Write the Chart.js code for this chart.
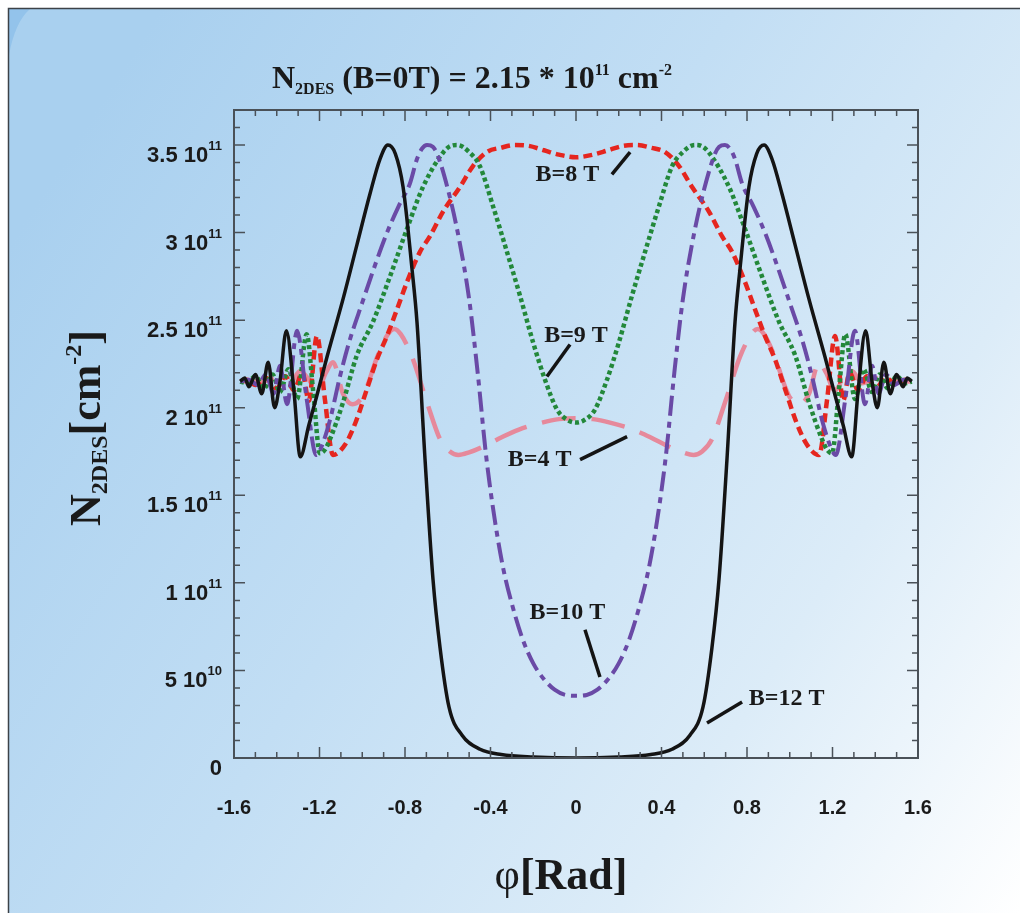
<!DOCTYPE html>
<html>
<head>
<meta charset="utf-8">
<script src="https://cdn.jsdelivr.net/npm/chart.js@4.4.1/dist/chart.umd.min.js"></script>
<style>
  html, body { margin: 0; padding: 0; background: #ffffff; }
  #wrap { width: 1020px; height: 913px; position: relative; }
</style>
</head>
<body>
<div id="wrap"><canvas id="c" width="1020" height="913"></canvas></div>
<script>
// Electron sheet density N_2DES (in 10^11 cm^-2) versus tilt angle phi (rad)

// B = 12 T
const phi12 = [-1.571,-1.55,-1.53,-1.50,-1.47,-1.44,-1.41,-1.385,-1.355,-1.32,-1.29,-1.25,-1.21,-1.165,-1.09,-1.025,-0.964,-0.917,-0.88,-0.845,-0.809,-0.767,-0.744,-0.706,-0.669,-0.636,-0.594,-0.533,-0.449,-0.35,-0.2,0,
               0.2,0.35,0.449,0.533,0.594,0.636,0.669,0.706,0.744,0.767,0.809,0.845,0.88,0.917,0.964,1.025,1.09,1.165,1.21,1.25,1.29,1.32,1.355,1.385,1.41,1.44,1.47,1.50,1.53,1.55,1.571];
const n12   = [2.15,2.17,2.12,2.19,2.08,2.26,2.00,2.15,2.44,2.10,1.72,1.90,2.08,2.29,2.62,2.93,3.22,3.42,3.50,3.45,3.26,2.79,2.49,1.70,1.02,0.63,0.29,0.13,0.05,0.02,0.006,0,
               0.006,0.02,0.05,0.13,0.29,0.63,1.02,1.70,2.49,2.79,3.26,3.45,3.50,3.42,3.22,2.93,2.62,2.29,2.08,1.90,1.72,2.10,2.44,2.15,2.00,2.26,2.08,2.19,2.12,2.17,2.15];

// B = 10 T
const phi10 = [-1.571,-1.53,-1.49,-1.45,-1.415,-1.385,-1.352,-1.305,-1.26,-1.215,-1.19,-1.151,-1.104,-1.06,-1.0,-0.95,-0.884,-0.83,-0.777,-0.744,-0.72,-0.697,-0.67,-0.65,-0.60,-0.55,-0.50,-0.46,-0.42,-0.38,-0.34,-0.30,-0.25,-0.20,-0.15,-0.10,-0.05,0,
               0.05,0.10,0.15,0.20,0.25,0.30,0.34,0.38,0.42,0.46,0.50,0.55,0.60,0.65,0.67,0.697,0.72,0.744,0.777,0.83,0.884,0.95,1.0,1.06,1.104,1.151,1.19,1.215,1.26,1.305,1.352,1.385,1.415,1.45,1.49,1.53,1.571];
const n10   = [2.15,2.16,2.13,2.19,2.08,2.24,2.02,2.44,2.05,1.73,1.78,1.93,2.18,2.38,2.60,2.78,3.00,3.15,3.28,3.42,3.48,3.50,3.49,3.45,3.25,2.98,2.62,2.20,1.72,1.36,1.08,0.88,0.68,0.54,0.45,0.39,0.36,0.355,
               0.36,0.39,0.45,0.54,0.68,0.88,1.08,1.36,1.72,2.20,2.62,2.98,3.25,3.45,3.49,3.50,3.48,3.42,3.28,3.15,3.00,2.78,2.60,2.38,2.18,1.93,1.78,1.73,2.05,2.44,2.02,2.24,2.08,2.19,2.13,2.16,2.15];

// B = 9 T
const phi9 = [-1.571,-1.54,-1.50,-1.46,-1.42,-1.385,-1.345,-1.305,-1.26,-1.23,-1.198,-1.175,-1.151,-1.09,-1.025,-0.95,-0.87,-0.791,-0.716,-0.62,-0.585,-0.555,-0.50,-0.45,-0.388,-0.323,-0.262,-0.20,-0.145,-0.089,-0.04,0,
              0.04,0.089,0.145,0.20,0.262,0.323,0.388,0.45,0.50,0.555,0.585,0.62,0.716,0.791,0.87,0.95,1.025,1.09,1.151,1.175,1.198,1.23,1.26,1.305,1.345,1.385,1.42,1.46,1.50,1.54,1.571];
const n9   = [2.15,2.14,2.18,2.11,2.19,2.09,2.22,2.05,2.42,2.10,1.74,1.76,1.82,2.03,2.30,2.49,2.75,3.02,3.26,3.46,3.495,3.50,3.46,3.38,3.15,2.89,2.64,2.37,2.16,1.99,1.93,1.915,
              1.93,1.99,2.16,2.37,2.64,2.89,3.15,3.38,3.46,3.50,3.495,3.46,3.26,3.02,2.75,2.49,2.30,2.03,1.82,1.76,1.74,2.10,2.42,2.05,2.22,2.09,2.19,2.11,2.18,2.14,2.15];

// B = 8 T
const phi8 = [-1.571,-1.54,-1.50,-1.45,-1.40,-1.36,-1.32,-1.28,-1.25,-1.212,-1.175,-1.137,-1.08,-1.03,-0.98,-0.93,-0.884,-0.838,-0.79,-0.73,-0.683,-0.622,-0.543,-0.482,-0.417,-0.35,-0.285,-0.22,-0.15,-0.08,0,
              0.08,0.15,0.22,0.285,0.35,0.417,0.482,0.543,0.622,0.683,0.73,0.79,0.838,0.884,0.93,0.98,1.03,1.08,1.137,1.175,1.212,1.25,1.28,1.32,1.36,1.40,1.45,1.50,1.54,1.571];
const n8   = [2.15,2.16,2.13,2.17,2.11,2.18,2.10,2.20,2.04,2.41,2.05,1.73,1.79,1.92,2.10,2.28,2.41,2.56,2.72,2.89,2.98,3.12,3.26,3.38,3.46,3.485,3.50,3.495,3.47,3.445,3.43,
              3.445,3.47,3.495,3.50,3.485,3.46,3.38,3.26,3.12,2.98,2.89,2.72,2.56,2.41,2.28,2.10,1.92,1.79,1.73,2.05,2.41,2.04,2.20,2.10,2.18,2.11,2.17,2.13,2.16,2.15];

// B = 4 T
const phi4 = [-1.571,-1.47,-1.40,-1.34,-1.29,-1.25,-1.21,-1.17,-1.137,-1.09,-1.045,-1.0,-0.978,-0.93,-0.88,-0.85,-0.82,-0.767,-0.697,-0.636,-0.59,-0.55,-0.50,-0.43,-0.35,-0.267,-0.159,-0.08,0,
              0.08,0.159,0.267,0.35,0.43,0.50,0.55,0.59,0.636,0.697,0.767,0.82,0.85,0.88,0.93,0.978,1.0,1.045,1.09,1.137,1.17,1.21,1.25,1.29,1.34,1.40,1.47,1.571];
const n4   = [2.15,2.15,2.17,2.14,2.21,2.16,2.10,2.20,2.26,2.08,2.02,2.06,2.12,2.29,2.42,2.45,2.42,2.29,2.03,1.82,1.75,1.73,1.745,1.78,1.83,1.875,1.915,1.935,1.94,
              1.935,1.915,1.875,1.83,1.78,1.745,1.73,1.75,1.82,2.03,2.29,2.42,2.45,2.42,2.29,2.12,2.06,2.02,2.08,2.26,2.20,2.10,2.16,2.21,2.14,2.17,2.15,2.15];

// axis ticks and labels
const xTicks = [-1.6,-1.2,-0.8,-0.4,0,0.4,0.8,1.2,1.6];
const xTickLabels = ['-1.6','-1.2','-0.8','-0.4','0','0.4','0.8','1.2','1.6'];
const yTicks = [0,0.5,1,1.5,2,2.5,3,3.5];
const yTickMain = ['0','5 10','1 10','1.5 10','2 10','2.5 10','3 10','3.5 10'];
const yTickExp  = ['','10','11','11','11','11','11','11'];

// curve annotations: text anchor and leader line, in data coordinates
const noteText = ['B=8 T','B=9 T','B=4 T','B=10 T','B=12 T'];
const notePos  = [[-0.04,3.33],[0.0,2.41],[-0.17,1.70],[-0.04,0.83],[0.985,0.34]];
const noteLine = [[0.168,3.333,0.253,3.459],[-0.136,2.178,-0.028,2.361],[0.019,1.704,0.239,1.835],[0.042,0.732,0.112,0.463],[0.777,0.32,0.613,0.20]];

const pts = (xs, ys) => xs.map((x, i) => ({ x: x, y: ys[i] }));

const SERIF = '"Liberation Serif", "Times New Roman", serif';
const SANS = '"Liberation Sans", Arial, sans-serif';

function richWidth(ctx, parts) {
  let w = 0;
  for (const p of parts) { ctx.font = p.f; w += ctx.measureText(p.t).width; }
  return w;
}
function drawRich(ctx, parts, x, y, align) {
  const w = richWidth(ctx, parts);
  let cx = align === 'center' ? x - w / 2 : (align === 'right' ? x - w : x);
  ctx.textAlign = 'left';
  ctx.textBaseline = 'alphabetic';
  for (const p of parts) {
    ctx.font = p.f;
    ctx.fillText(p.t, cx, y + (p.dy || 0));
    cx += ctx.measureText(p.t).width;
  }
}

const decor = {
  id: 'decor',
  beforeDraw(chart) {
    const ctx = chart.ctx, W = chart.width, H = chart.height;
    ctx.save();
    ctx.fillStyle = '#ffffff';
    ctx.fillRect(0, 0, W, H);
    const g = ctx.createLinearGradient(0, 260, W, H);
    g.addColorStop(0, '#a9d0ef');
    g.addColorStop(0.4, '#c2def4');
    g.addColorStop(0.72, '#dcecf8');
    g.addColorStop(1, '#ffffff');
    ctx.fillStyle = g;
    ctx.fillRect(9, 9, W - 9, H - 9);
    // darker swoosh in the upper-left corner
    ctx.fillStyle = 'rgba(120,180,230,0.45)';
    ctx.beginPath();
    ctx.moveTo(9, 9);
    ctx.lineTo(30, 9);
    ctx.quadraticCurveTo(15, 22, 9, 55);
    ctx.closePath();
    ctx.fill();
    ctx.strokeStyle = '#3c4248';
    ctx.lineWidth = 1.5;
    ctx.beginPath();
    ctx.moveTo(8.5, H);
    ctx.lineTo(8.5, 8.5);
    ctx.lineTo(W, 8.5);
    ctx.stroke();
    ctx.restore();
  },
  afterDatasetsDraw(chart) {
    const ctx = chart.ctx;
    const a = chart.chartArea;
    const xs = chart.scales.x, ys = chart.scales.y;
    ctx.save();

    // frame
    ctx.strokeStyle = '#4a5158';
    ctx.lineWidth = 2;
    ctx.strokeRect(a.left, a.top, a.right - a.left, a.bottom - a.top);

    // inward ticks on all four sides
    ctx.lineWidth = 1.5;
    ctx.beginPath();
    for (let i = -16; i <= 16; i++) {
      const px = xs.getPixelForValue(i / 10);
      const len = (i % 4 === 0) ? 11 : 6;
      ctx.moveTo(px, a.bottom); ctx.lineTo(px, a.bottom - len);
      ctx.moveTo(px, a.top); ctx.lineTo(px, a.top + len);
    }
    for (let i = 0; i <= 37; i++) {
      const py = ys.getPixelForValue(i / 10);
      const len = (i % 5 === 0) ? 11 : 6;
      ctx.moveTo(a.left, py); ctx.lineTo(a.left + len, py);
      ctx.moveTo(a.right, py); ctx.lineTo(a.right - len, py);
    }
    ctx.stroke();

    ctx.fillStyle = '#1a1a1a';
    // x tick labels
    ctx.font = 'bold 20px ' + SANS;
    ctx.textAlign = 'center';
    ctx.textBaseline = 'alphabetic';
    xTicks.forEach((v, i) => {
      ctx.fillText(xTickLabels[i], xs.getPixelForValue(v), 814);
    });
    // y tick labels with exponents
    yTicks.forEach((v, i) => {
      const py = ys.getPixelForValue(v) + 17;
      drawRich(ctx, [
        { t: yTickMain[i], f: 'bold 22px ' + SANS },
        { t: yTickExp[i], f: 'bold 13px ' + SANS, dy: -12 }
      ], 222, py, 'right');
    });

    // chart title
    drawRich(ctx, [
      { t: 'N', f: 'bold 32px ' + SERIF },
      { t: '2DES', f: 'bold 16px ' + SERIF, dy: 6 },
      { t: ' (B=0T) = 2.15 * 10', f: 'bold 32px ' + SERIF },
      { t: '11', f: 'bold 16px ' + SERIF, dy: -13 },
      { t: ' cm', f: 'bold 32px ' + SERIF },
      { t: '-2', f: 'bold 16px ' + SERIF, dy: -13 }
    ], 472, 88, 'center');

    // x axis title
    drawRich(ctx, [
      { t: 'φ', f: '44px ' + SERIF },
      { t: '[Rad]', f: 'bold 44px ' + SERIF }
    ], 561, 889, 'center');

    // y axis title
    ctx.save();
    ctx.translate(100, 428);
    ctx.rotate(-Math.PI / 2);
    drawRich(ctx, [
      { t: 'N', f: 'bold 44px ' + SERIF },
      { t: '2DES', f: 'bold 24px ' + SERIF, dy: 7 },
      { t: '[cm', f: 'bold 44px ' + SERIF },
      { t: '-2', f: 'bold 24px ' + SERIF, dy: -19 },
      { t: ']', f: 'bold 44px ' + SERIF }
    ], 0, 0, 'center');
    ctx.restore();

    // curve labels with leader lines
    ctx.strokeStyle = '#141414';
    ctx.lineWidth = 3.5;
    noteLine.forEach(l => {
      ctx.beginPath();
      ctx.moveTo(xs.getPixelForValue(l[0]), ys.getPixelForValue(l[1]));
      ctx.lineTo(xs.getPixelForValue(l[2]), ys.getPixelForValue(l[3]));
      ctx.stroke();
    });
    ctx.font = 'bold 24px ' + SERIF;
    ctx.textAlign = 'center';
    ctx.textBaseline = 'middle';
    noteText.forEach((t, i) => {
      ctx.fillText(t, xs.getPixelForValue(notePos[i][0]), ys.getPixelForValue(notePos[i][1]));
    });

    ctx.restore();
  }
};

const common = { pointRadius: 0, fill: false, cubicInterpolationMode: 'monotone', borderCapStyle: 'butt' };

new Chart(document.getElementById('c'), {
  type: 'line',
  data: {
    datasets: [
      Object.assign({ label: 'B=12 T', data: pts(phi12, n12), borderColor: '#141414', borderWidth: 3.5 }, common),
      Object.assign({ label: 'B=10 T', data: pts(phi10, n10), borderColor: '#6a4aa6', borderWidth: 4, borderDash: [20, 6, 6, 6] }, common),
      Object.assign({ label: 'B=9 T', data: pts(phi9, n9), borderColor: '#23883a', borderWidth: 4.5, borderDash: [4, 3] }, common),
      Object.assign({ label: 'B=8 T', data: pts(phi8, n8), borderColor: '#e5261f', borderWidth: 4.5, borderDash: [9, 5] }, common),
      Object.assign({ label: 'B=4 T', data: pts(phi4, n4), borderColor: '#e6899b', borderWidth: 4.5, borderDash: [34, 16] }, common)
    ]
  },
  options: {
    responsive: false,
    animation: false,
    devicePixelRatio: 1,
    layout: { padding: { left: 234, right: 102, top: 110, bottom: 155 } },
    plugins: { legend: { display: false }, tooltip: { enabled: false }, title: { display: false } },
    scales: {
      x: { type: 'linear', min: -1.6, max: 1.6, display: false },
      y: { type: 'linear', min: 0, max: 3.7, display: false }
    }
  },
  plugins: [decor]
});
</script>
</body>
</html>
